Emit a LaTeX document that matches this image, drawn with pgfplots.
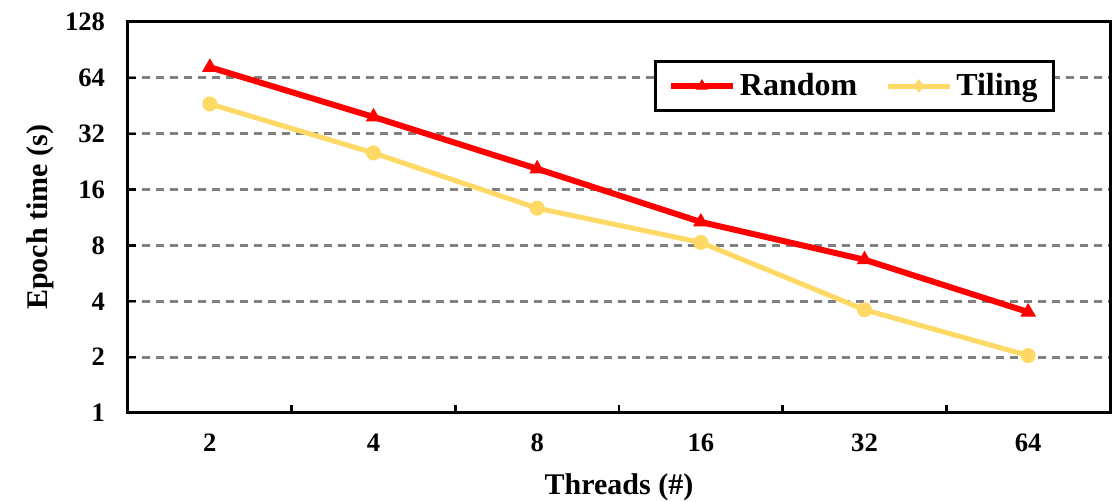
\documentclass[border=0pt]{standalone}
\usepackage{fontspec}
\setmainfont{Liberation Serif}
\usepackage{pgfplots}
\pgfplotsset{compat=1.18}
\definecolor{myred}{HTML}{FF0000}
\definecolor{myyellow}{HTML}{FFD966}
\definecolor{gridgray}{HTML}{808080}
\tikzset{legmark/.style={}}
\begin{document}
\begin{tikzpicture}
\begin{axis}[
  scale only axis, width=491pt, height=195.5pt,
  xmin=-0.5, xmax=5.5, ymode=log, log basis y=2, ymin=1, ymax=128,
  xtick={0,...,5}, xticklabels={2,4,8,16,32,64},
  minor xtick={0.5,1.5,2.5,3.5,4.5},
  major x tick style={draw=none},
  ytick={1,2,4,8,16,32,64,128}, yticklabels={1,2,4,8,16,32,64,128},
  tick align=inside, major tick length=4pt, minor tick length=4pt,
  xtick pos=bottom, ytick pos=left,
  ymajorgrids, grid style={gridgray, line width=1.5pt, dash pattern=on 4pt off 3pt},
  axis line style={line width=1.5pt},
  tick style={black, line width=1.2pt},
  ticklabel style={font=\fontsize{13.3}{15}\selectfont\bfseries},
  /pgf/number format/assume math mode=true,
  yticklabel style={xshift=-8pt},
  xticklabel style={yshift=-7pt},
  xlabel={Threads (\#)}, ylabel={Epoch time (s)},
  label style={font=\fontsize{15}{18}\selectfont\bfseries},
  x label style={at={(axis description cs:0.5,-0.189)}, anchor=center},
  y label style={at={(axis description cs:-0.0896,0.5)}, anchor=center},
  legend columns=2,
  legend style={at={(0.944,0.903)}, anchor=north east, draw=black, line width=1.5pt,
    font=\fontsize{16}{19}\selectfont\bfseries, inner xsep=6pt, inner ysep=4pt,
    /tikz/every even column/.append style={column sep=12pt}},
  legend image code/.code={\draw[#1, mark=none] (0pt,0pt) -- (31pt,0pt);
    \draw[#1, mark size=3pt, legmark] plot coordinates {(15.5pt,0pt)};},
]
\addplot[myred, line width=3pt, mark=triangle*, mark size=4pt, mark options={line width=0.5pt}]
  coordinates {(0,73) (1,39.4) (2,20.7) (3,10.7) (4,6.7) (5,3.5)};
\addlegendentry{Random}
\addplot[myyellow, line width=2.5pt, mark=*, mark size=3.5pt, mark options={line width=0.5pt},
  /tikz/legmark/.style={mark=diamond*}]
  coordinates {(0,46.3) (1,25.2) (2,12.7) (3,8.3) (4,3.6) (5,2.04)};
\addlegendentry{Tiling}
\end{axis}
\pgfresetboundingbox
\path (current axis.south west) ++(-64pt,-44.5pt) coordinate (bl);
\path (current axis.north east) ++(3.5pt,11pt) coordinate (tr);
\useasboundingbox (bl) rectangle (tr);
\end{tikzpicture}
\end{document}
